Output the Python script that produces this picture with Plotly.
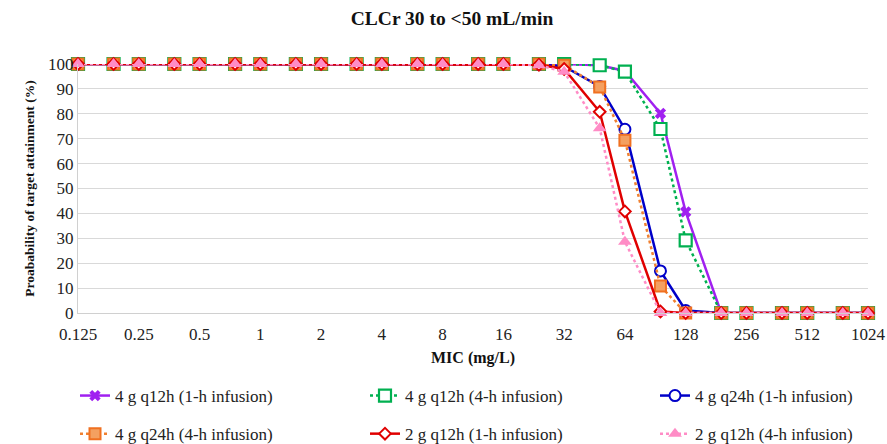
import math
import plotly.graph_objects as go

mic = [0.125, 0.1875, 0.25, 0.375, 0.5, 0.75, 1, 1.5, 2, 3, 4, 6, 8, 12, 16,
       24, 32, 48, 64, 96, 128, 192, 256, 384, 512, 768, 1024]
tick_vals = [0.125, 0.25, 0.5, 1, 2, 4, 8, 16, 32, 64, 128, 256, 512, 1024]
tick_text = ["0.125", "0.25", "0.5", "1", "2", "4", "8", "16", "32", "64", "128", "256", "512", "1024"]

head = [100] * 15
tail = [0] * 5
s_4g_q12h_1h = head + [100, 100, 99.5, 97.2, 80.2, 40.6, 0] + tail
s_4g_q12h_4h = head + [100, 100, 99.5, 96.9, 73.9, 29.2, 0] + tail
s_4g_q24h_1h = head + [99.8, 99.0, 91.0, 73.8, 16.9, 1.0, 0] + tail
s_4g_q24h_4h = head + [100, 99.5, 90.8, 69.4, 10.8, 0, 0] + tail
s_2g_q12h_1h = head + [99.7, 98.0, 80.8, 40.8, 0.6, 0, 0] + tail
s_2g_q12h_4h = head + [99.5, 96.9, 74.2, 28.6, 0, 0, 0] + tail

names = ["4 g q12h (1-h infusion)", "4 g q12h (4-h infusion)", "4 g q24h (1-h infusion)",
         "4 g q24h (4-h infusion)", "2 g q12h (1-h infusion)", "2 g q12h (4-h infusion)"]

FONT = "Liberation Serif"

styles = [
    dict(color="#A020F0", dash="solid", marker=dict(symbol="x", size=10, color="#A020F0", line=dict(width=0))),
    dict(color="#00B050", dash="dot", marker=dict(symbol="square", size=12, color="white", line=dict(width=2.2, color="#00B050"))),
    dict(color="#0000C8", dash="solid", marker=dict(symbol="circle", size=11, color="white", line=dict(width=2, color="#0000C8"))),
    dict(color="#F08030", dash="dot", marker=dict(symbol="square", size=11, color="#F4A060", line=dict(width=2, color="#F07020"))),
    dict(color="#E00000", dash="solid", marker=dict(symbol="diamond", size=9, color="white", line=dict(width=2, color="#E00000"))),
    dict(color="#FF8CC6", dash="dot", marker=dict(symbol="triangle-up", size=12, color="#FF8CC6", line=dict(width=0))),
]
series = [s_4g_q12h_1h, s_4g_q12h_4h, s_4g_q24h_1h, s_4g_q24h_4h, s_2g_q12h_1h, s_2g_q12h_4h]
legend_ids = ["legend", "legend2", "legend3", "legend", "legend2", "legend3"]

fig = go.Figure()
for i, (name, ys, st) in enumerate(zip(names, series, styles)):
    fig.add_trace(go.Scatter(
        x=mic, y=ys, name=name, mode="lines+markers",
        line=dict(color=st["color"], width=2.5, dash=st["dash"]),
        marker=st["marker"], cliponaxis=False,
        legend=legend_ids[i], legendgroup=str(i),
    ))

PL, PR, PT, PB = 78, 868, 64, 313
pw, ph = PR - PL, PB - PT


def px(v):
    return (v - PL) / pw


def py(v):
    return (PB - v) / ph


leg_common = dict(orientation="v", xref="paper", yref="paper", yanchor="top",
                  xanchor="left", font=dict(family=FONT, size=17, color="#222"),
                  tracegroupgap=13, bgcolor="rgba(0,0,0,0)")
fig.update_layout(
    width=887, height=444,
    margin=dict(l=PL, r=887 - PR, t=PT, b=444 - PB, autoexpand=False),
    paper_bgcolor="white", plot_bgcolor="white",
    showlegend=True,
    title=dict(text="<b>CLCr 30 to <50 mL/min</b>", x=452 / 887, xref="container", xanchor="center",
               y=1 - 18 / 444, yanchor="middle",
               font=dict(family=FONT, size=19.5, color="#111")),
    xaxis=dict(type="log", range=[math.log10(0.125), math.log10(1024)], tickvals=tick_vals, ticktext=tick_text,
               showgrid=False, showline=True, linecolor="#D0D0D0", linewidth=1, ticks="",
               ticklabelstandoff=6,
               tickfont=dict(family=FONT, size=17, color="#222"),
               title=dict(text="<b>MIC (mg/L)</b>", font=dict(family=FONT, size=16, color="#111"), standoff=8),
               zeroline=False),
    yaxis=dict(range=[0, 100], dtick=10, showgrid=True, gridcolor="#D9D9D9", gridwidth=1,
               showline=True, linecolor="#D0D0D0", ticks="", zeroline=False,
               tickfont=dict(family=FONT, size=17, color="#222"),
               title=dict(text="<b>Proabability of target attainment (%)</b>", font=dict(family=FONT, size=13.5, color="#111"), standoff=10)),
    legend=dict(x=px(75), y=py(378), **leg_common),
    legend2=dict(x=px(365), y=py(378), **leg_common),
    legend3=dict(x=px(655), y=py(378), **leg_common),
)
fig.write_html("out.html")
